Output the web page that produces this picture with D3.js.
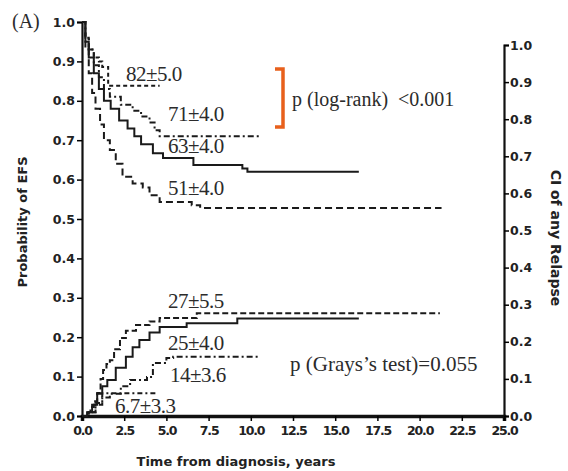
<!DOCTYPE html>
<html>
<head>
<meta charset="utf-8">
<script src="https://cdn.jsdelivr.net/npm/d3@7"></script>
<style>
  body { margin: 0; background: #fff; }
  .tick text { font-family: "DejaVu Sans", Verdana, sans-serif; font-weight: bold; font-size: 12.5px; fill: #222; }
  .xaxis .tick text { letter-spacing: -1.2px; }
  .note { font-family: "Liberation Serif", "Times New Roman", serif; fill: #2b2b2b; }
</style>
</head>
<body>
<svg id="chart" width="568" height="471"></svg>
<script>
// EFS curves (left axis), [years, probability]
var efs82 = [[0,1],[0.2,0.96],[0.4,0.93],[0.7,0.91],[1.0,0.9],[1.2,0.886],[1.55,0.838],[4.6,0.838]];
var efs71 = [[0,1],[0.2,0.96],[0.4,0.93],[0.7,0.89],[1.0,0.86],[1.3,0.83],[1.65,0.81],[2.3,0.79],[3.0,0.775],[3.5,0.76],[4.0,0.745],[4.3,0.725],[4.6,0.71],[10.5,0.71]];
var efs63 = [[0,1],[0.2,0.95],[0.4,0.91],[0.7,0.87],[1.0,0.83],[1.3,0.80],[1.7,0.78],[2.2,0.75],[2.7,0.73],[3.1,0.71],[3.5,0.69],[4.2,0.667],[4.8,0.655],[6.6,0.637],[9.5,0.628],[9.8,0.62],[16.4,0.62]];
var efs51 = [[0,1],[0.2,0.93],[0.4,0.87],[0.6,0.82],[0.8,0.78],[1.07,0.74],[1.3,0.7],[1.65,0.675],[2.0,0.64],[2.4,0.607],[3.0,0.59],[3.6,0.58],[4.0,0.56],[4.6,0.543],[6.5,0.535],[7.0,0.528],[21.3,0.528]];

// cumulative incidence of relapse (right axis)
var ci27 = [[0,0],[0.3,0.01],[0.5,0.024],[0.7,0.04],[0.9,0.062],[1.1,0.1],[1.25,0.124],[1.45,0.14],[1.65,0.15],[1.9,0.18],[2.25,0.21],[2.6,0.23],[3.2,0.245],[4.0,0.255],[4.6,0.264],[6.8,0.277],[21.2,0.277]];
var ci25 = [[0,0],[0.3,0.01],[0.6,0.03],[0.9,0.06],[1.2,0.08],[1.5,0.097],[2.0,0.13],[2.6,0.16],[3.0,0.185],[3.4,0.205],[4.0,0.225],[4.6,0.24],[6.2,0.25],[9.2,0.263],[16.4,0.263]];
var ci14 = [[0,0],[0.4,0.01],[0.8,0.03],[1.2,0.05],[1.65,0.06],[2.3,0.08],[2.85,0.097],[3.85,0.105],[4.2,0.143],[5.0,0.156],[5.4,0.16],[10.5,0.16]];
var ci67 = [[0,0],[0.4,0.01],[0.8,0.035],[1.2,0.061],[4.5,0.061]];

var xTicks = [0, 2.5, 5, 7.5, 10, 12.5, 15, 17.5, 20, 22.5, 25];
var yTicks = [0, 0.1, 0.2, 0.3, 0.4, 0.5, 0.6, 0.7, 0.8, 0.9, 1.0];

var efsLabels = [["82±5.0", 126, 81], ["71±4.0", 168, 121], ["63±4.0", 168, 153], ["51±4.0", 168, 195]];
var ciLabels = [["27±5.5", 168, 308], ["25±4.0", 168, 350], ["14±3.6", 170, 382], ["6.7±3.3", 115, 413]];

var svg = d3.select("#chart");

var x = d3.scaleLinear().domain([0, 25]).range([82, 504]);
var yL = d3.scaleLinear().domain([0, 1]).range([416, 22]);
var yR = d3.scaleLinear().domain([0, 1]).range([416, 45]);

// axes
svg.append("g")
    .classed("xaxis", true)
    .attr("transform", "translate(0,416)")
    .call(d3.axisBottom(x).tickValues(xTicks).tickFormat(d3.format(".1f")).tickSize(5).tickPadding(5))
    .call(g => g.select(".domain").attr("stroke-width", 3.5).attr("stroke", "#111"))
    .call(g => g.selectAll(".tick line").attr("stroke-width", 1.5));

svg.append("g")
    .attr("transform", "translate(82,0)")
    .call(d3.axisLeft(yL).tickValues(yTicks).tickFormat(d3.format(".1f")).tickSize(5).tickPadding(2))
    .call(g => g.select(".domain").attr("stroke-width", 2.2).attr("stroke", "#111"))
    .call(g => g.selectAll(".tick line").attr("stroke-width", 1.5));

svg.append("g")
    .attr("transform", "translate(504,0)")
    .call(d3.axisRight(yR).tickValues(yTicks).tickFormat(d3.format(".1f")).tickSize(5).tickPadding(1))
    .call(g => g.select(".domain").attr("stroke-width", 2.2).attr("stroke", "#111"))
    .call(g => g.selectAll(".tick line").attr("stroke-width", 1.5));

// curves
var lineL = d3.line().x(d => x(d[0])).y(d => yL(d[1])).curve(d3.curveStepAfter);
var lineR = d3.line().x(d => x(d[0])).y(d => yR(d[1])).curve(d3.curveStepAfter);

var curves = [
  [efs82, lineL, "4,3"],
  [efs71, lineL, "6,3,2,3"],
  [efs63, lineL, null],
  [efs51, lineL, "7,4"],
  [ci27, lineR, "6,3"],
  [ci25, lineR, null],
  [ci14, lineR, "6,3,2,3"],
  [ci67, lineR, "5,3,2,3"]
];

svg.selectAll(".curve")
  .data(curves)
  .enter()
    .append("path")
    .classed("curve", true)
    .attr("fill", "none")
    .attr("stroke", "#1a1a1a")
    .attr("stroke-width", 2)
    .attr("stroke-dasharray", d => d[2])
    .attr("d", d => d[1](d[0]));

// value labels
svg.selectAll(".vlab")
  .data(efsLabels.concat(ciLabels))
  .enter()
    .append("text")
    .classed("note", true)
    .attr("x", d => d[1])
    .attr("y", d => d[2])
    .attr("font-size", "21px")
    .attr("letter-spacing", "-0.5px")
    .text(d => d[0]);

// bracket
svg.append("path")
    .attr("d", "M275,69 H283 V127 H275")
    .attr("fill", "none")
    .attr("stroke", "#e8601c")
    .attr("stroke-width", 3.5);

svg.append("text").classed("note", true)
    .attr("x", 292).attr("y", 106).attr("font-size", "20px")
    .attr("xml:space", "preserve")
    .text("p (log-rank)  <0.001");

svg.append("text").classed("note", true)
    .attr("x", 290).attr("y", 371).attr("font-size", "21px")
    .text("p (Grays’s test)=0.055");

svg.append("text").classed("note", true)
    .attr("x", 12).attr("y", 28).attr("font-size", "20px")
    .text("(A)");

// axis titles
var titleFont = "'DejaVu Sans', Verdana, sans-serif";
svg.append("text")
    .attr("x", 236).attr("y", 466)
    .attr("text-anchor", "middle")
    .attr("font-family", titleFont).attr("font-weight", "bold").attr("font-size", "13px")
    .attr("fill", "#222")
    .text("Time from diagnosis, years");

svg.append("text")
    .attr("transform", "translate(27,222) rotate(-90)")
    .attr("text-anchor", "middle")
    .attr("font-family", titleFont).attr("font-weight", "bold").attr("font-size", "13px")
    .attr("fill", "#222")
    .text("Probability of EFS");

svg.append("text")
    .attr("transform", "translate(551,238) rotate(90)")
    .attr("text-anchor", "middle")
    .attr("font-family", titleFont).attr("font-weight", "bold").attr("font-size", "14px")
    .attr("fill", "#222")
    .text("CI of any Relapse");
</script>
</body>
</html>
